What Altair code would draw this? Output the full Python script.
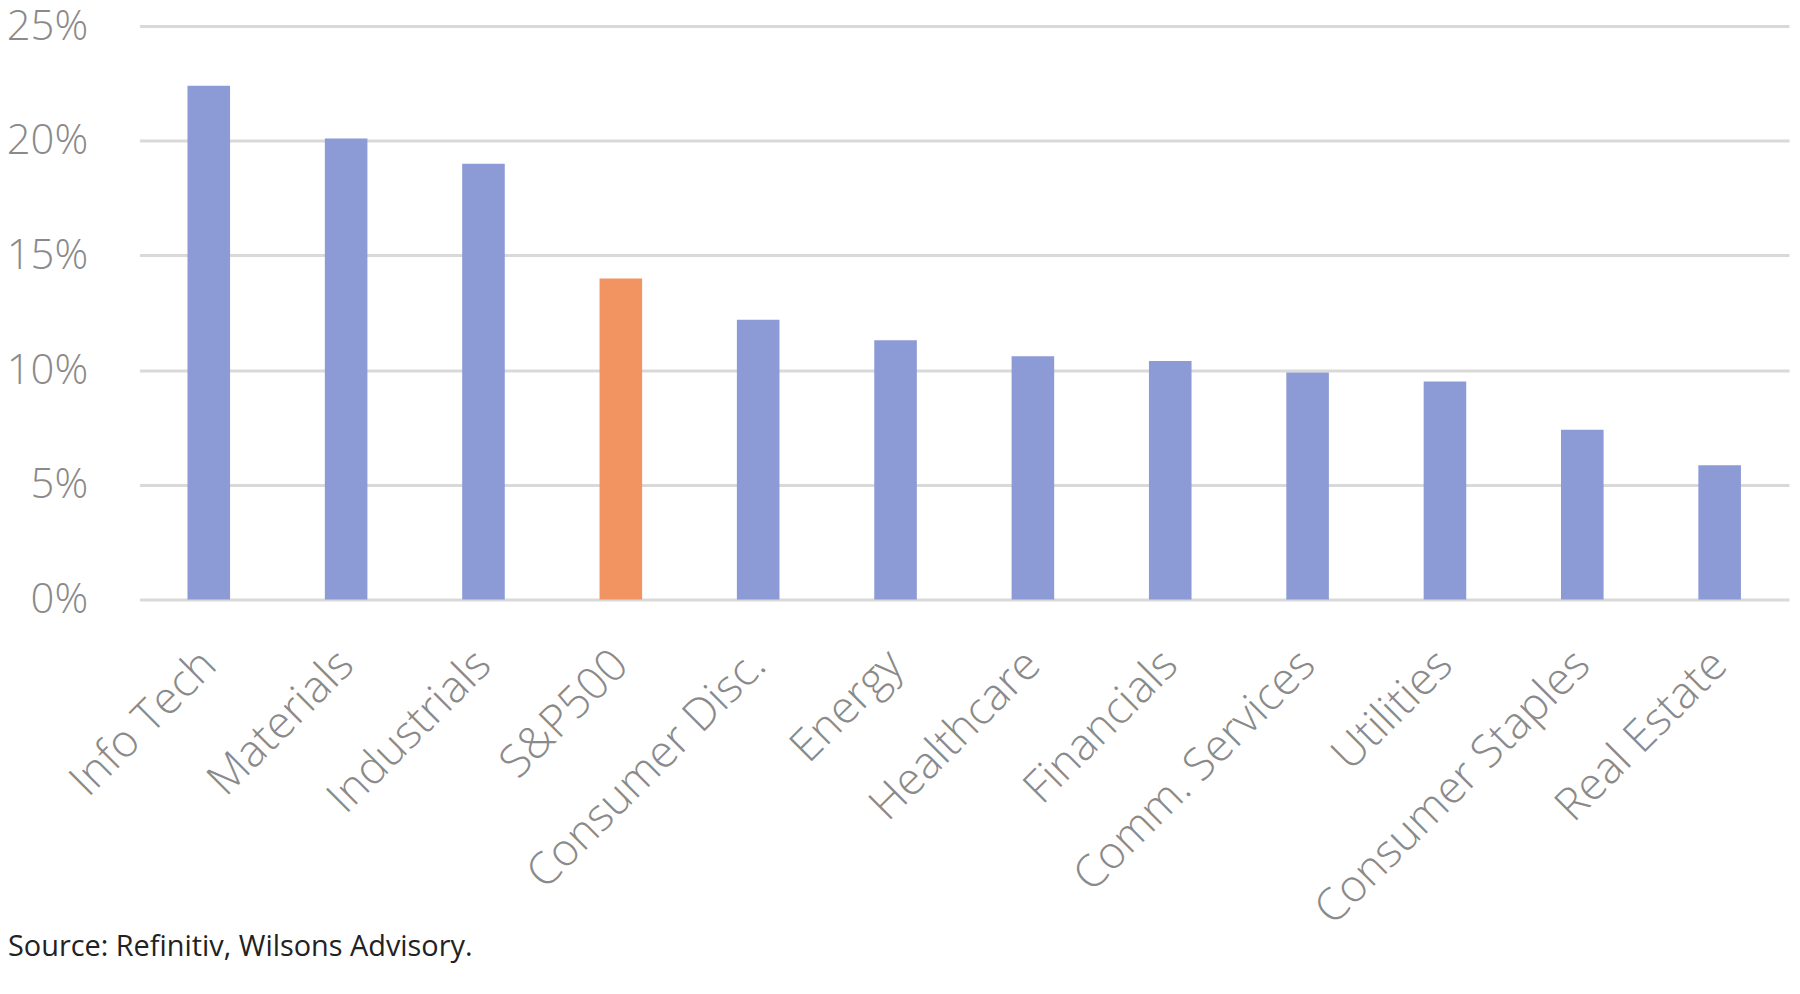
import altair as alt
import pandas as pd

categories = ["Info Tech", "Materials", "Industrials", "S&P500", "Consumer Disc.",
              "Energy", "Healthcare", "Financials", "Comm. Services", "Utilities",
              "Consumer Staples", "Real Estate"]
values = [22.4, 20.1, 19.0, 14.0, 12.2, 11.3, 10.6, 10.4, 9.9, 9.5, 7.4, 5.85]
is_index = [False, False, False, True, False, False, False, False, False, False, False, False]
y_ticks = [0, 5, 10, 15, 20, 25]
source_text = "Source: Refinitiv, Wilsons Advisory."

df = pd.DataFrame({"cat": categories, "val": values,
                   "grp": ["index" if b else "sector" for b in is_index]})

W, H = 1657, 576
FONT = "Open Sans"

bars = alt.Chart(df).mark_bar(strokeWidth=0).encode(
    x=alt.X("cat:N", sort=categories, title=None,
            scale=alt.Scale(paddingInner=0.69, paddingOuter=0.35),
            axis=alt.Axis(labelAngle=-45, labelAlign="right", labelBaseline="middle",
                          labelFontSize=45, labelFont=FONT, labelFontWeight=300,
                          labelColor="#8a8a8a", labelPadding=58, ticks=False,
                          domain=False, grid=False, labelLimit=700)),
    y=alt.Y("val:Q", title=None,
            scale=alt.Scale(domain=[0, 25], nice=False),
            axis=alt.Axis(values=y_ticks, labelExpr="datum.value + '%'",
                          labelFontSize=42, labelFont=FONT, labelFontWeight=300,
                          labelColor="#8a8a8a", labelPadding=52, ticks=False,
                          domain=False, grid=True, gridColor="#d9d9d9",
                          gridWidth=3)),
    color=alt.Color("grp:N", legend=None,
                    scale=alt.Scale(domain=["sector", "index"],
                                    range=["#8c9ad5", "#f29462"])),
)

source = alt.Chart(pd.DataFrame({"t": [source_text]})).mark_text(
    align="left", baseline="alphabetic", font=FONT, fontSize=29,
    color="#222222"
).encode(text="t:N", x=alt.value(-132), y=alt.value(934))

chart = alt.layer(bars, source).properties(
    width=W, height=H,
    background="white",
    autosize=alt.AutoSizeParams(type="none"),
    padding={"left": 132, "top": 16, "right": 3, "bottom": 370},
).configure_view(strokeWidth=0, stroke="transparent")

chart.save("out.html", embed_options={"renderer": "svg", "actions": False})
